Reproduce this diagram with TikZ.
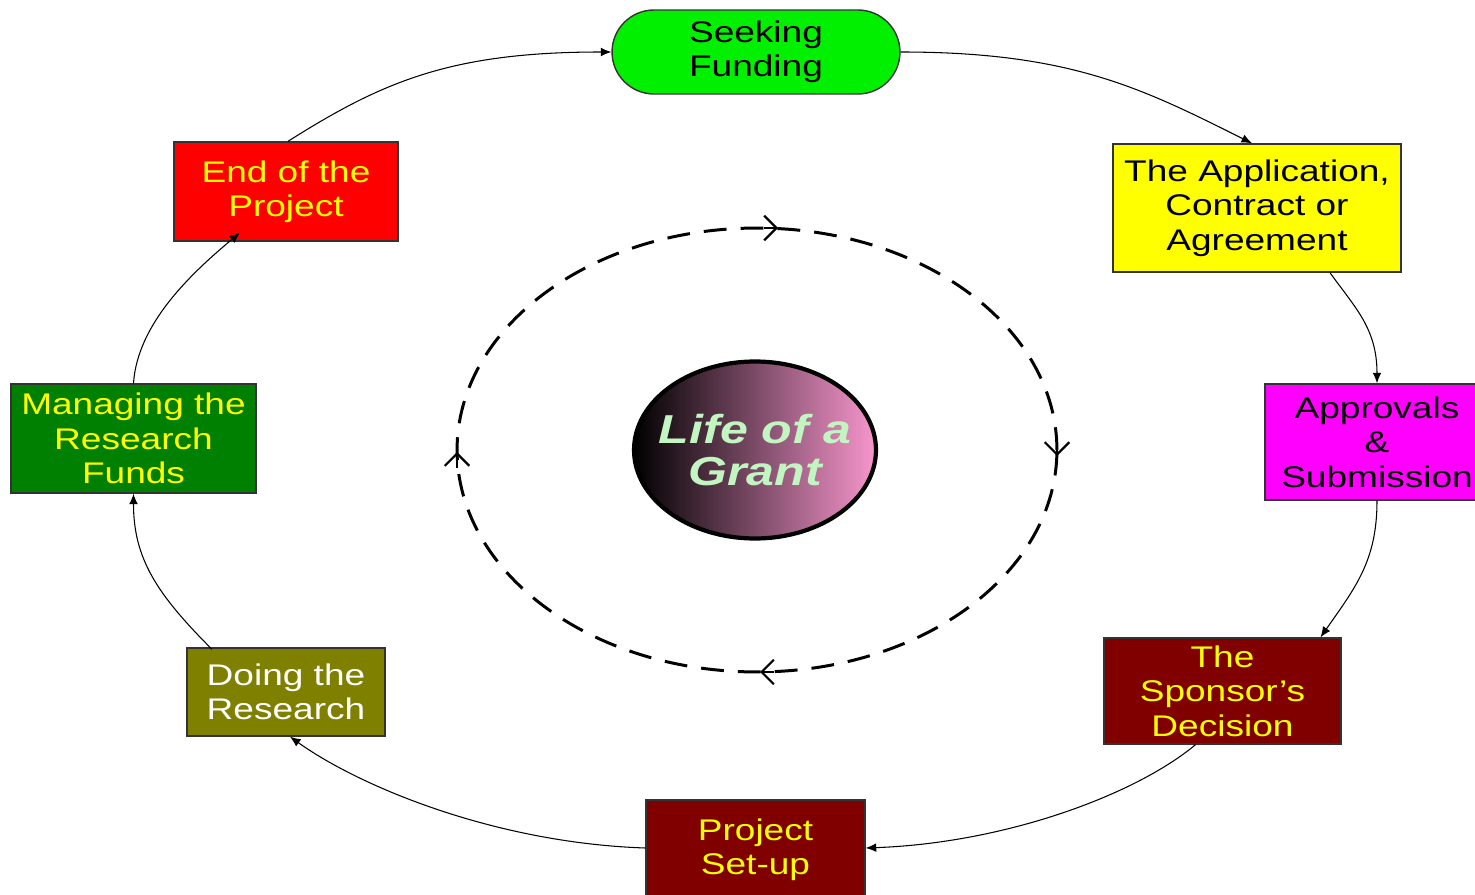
\documentclass[tikz,border=0pt]{standalone}
\usepackage{fontspec}
\setmainfont{Liberation Sans}[FakeStretch=1.24]
\usetikzlibrary{arrows.meta,shapes.misc,shapes.geometric,calc}
\definecolor{brightgreen}{RGB}{0,240,0}
\definecolor{boxyellow}{RGB}{255,255,0}
\definecolor{boxmagenta}{RGB}{255,0,255}
\definecolor{boxmaroon}{RGB}{128,0,0}
\definecolor{boxolive}{RGB}{128,128,0}
\definecolor{boxgreen}{RGB}{0,128,0}
\definecolor{boxred}{RGB}{255,0,0}
\definecolor{txtyellow}{RGB}{255,255,0}
\definecolor{grantpink}{RGB}{248,150,205}
\definecolor{grantgreen}{RGB}{195,245,195}
\begin{document}
\begin{tikzpicture}[x=0.02cm,y=-0.02cm,
  box/.style={draw=black!80, line width=0.8pt, rectangle, inner sep=0pt, align=center,
    font=\fontsize{17}{19.6}\selectfont},
  conn/.style={line width=0.6pt, -{Latex[length=6pt,width=5pt]}},
  barb/.style={line width=1.3pt, -{Straight Barb[length=7pt,width=14pt]}}]
\useasboundingbox (0,0) rectangle (1475,895);
\clip (0,0) rectangle (1475,895);

% outer boxes
\node[box, rounded rectangle, fill=brightgreen, minimum width=5.76cm, minimum height=1.68cm] (seek) at (756,52) {Seeking\\Funding};
\node[box, fill=boxyellow, minimum width=5.76cm, minimum height=2.56cm] (app) at (1257,208) {The Application,\\Contract or\\Agreement};
\node[box, fill=boxmagenta, minimum width=4.48cm, minimum height=2.32cm] (appr) at (1377,442) {Approvals\\\&\\Submission};
\node[box, fill=boxmaroon, text=txtyellow, minimum width=4.74cm, minimum height=2.12cm] (spons) at (1222.5,691) {The\\Sponsor’s\\Decision};
\node[box, fill=boxmaroon, text=txtyellow, minimum width=4.38cm, minimum height=2.0cm] (proj) at (755.5,850) {Project\\Set-up};
\node[box, fill=boxolive, text=white, minimum width=3.96cm, minimum height=1.76cm] (doing) at (286,692) {Doing the\\Research};
\node[box, fill=boxgreen, text=txtyellow, minimum width=4.9cm, minimum height=2.18cm] (manage) at (133.5,438.5) {Managing the\\Research\\Funds};
\node[box, fill=boxred, text=txtyellow, minimum width=4.48cm, minimum height=1.98cm] (endp) at (286,191.5) {End of the\\Project};

% centre
\node[ellipse, draw=black, line width=2.4pt, left color=black, right color=grantpink,
  minimum width=4.84cm, minimum height=3.54cm, inner sep=0pt] (life) at (755,450) {};
\node[align=center, text=grantgreen, inner sep=0pt,
  font=\bfseries\itshape\fontsize{23}{24.4}\selectfont] (lifetext) at (life.center) {Life of a\\Grant};

% dashed orbit
\coordinate (oc) at (757,450);
\draw[line width=1.7pt, dash pattern=on 13pt off 8pt] (oc) ellipse [x radius=6cm, y radius=4.44cm];
\coordinate (ta) at (764,228); \coordinate (tb) at (778,228);
\coordinate (ra) at (1057,438); \coordinate (rb) at (1057,456);
\coordinate (ba) at (774,672); \coordinate (bb) at (760,672);
\coordinate (la) at (457,468); \coordinate (lb) at (457,452);
\draw[barb] (ta) -- (tb);
\draw[barb] (ra) -- (rb);
\draw[barb] (ba) -- (bb);
\draw[barb] (la) -- (lb);

% connectors
\draw[conn] (seek.east) .. controls +(170,0) and +(-110,-55) .. ($(app.north)+(-5,0)$);
\draw[conn] ($(app.south)+(73,0)$) .. controls +(25,35) and +(0,-55) .. (appr.north);
\draw[conn] (appr.south) .. controls +(0,60) and +(35,-50) .. ($(spons.north)+(98,0)$);
\draw[conn] ($(spons.south)+(-27,0)$) .. controls +(-60,50) and +(140,-5) .. ($(proj.east)+(0,-2)$);
\draw[conn] ($(proj.west)+(0,-2)$) .. controls +(-150,-5) and +(70,50) .. ($(doing.south)+(4,0)$);
\draw[conn] ($(doing.north)+(-74,2)$) .. controls +(-55,-55) and +(0,65) .. (manage.south);
\draw[conn] (manage.north) .. controls +(4,-60) and +(-48,40) .. ($(endp.south)+(-46,-9)$);
\draw[conn] ($(endp.north)+(2,0)$) .. controls +(95,-60) and +(-160,0) .. (seek.west);
\end{tikzpicture}
\end{document}
